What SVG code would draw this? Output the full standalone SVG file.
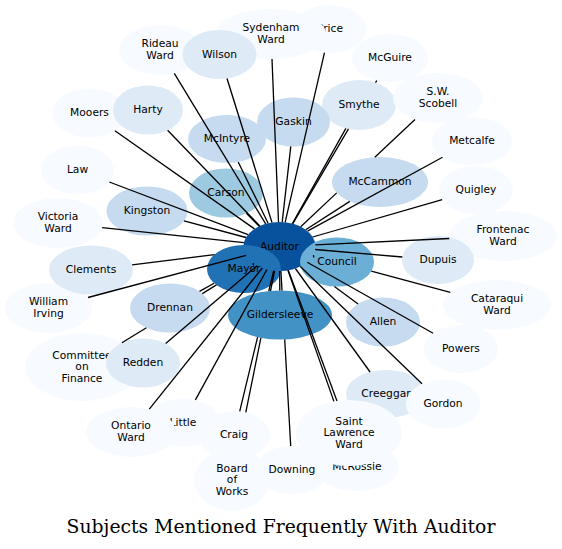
<svg xmlns="http://www.w3.org/2000/svg" width="562" height="549" viewBox="0 0 562 549">
<style>
.n text{font-family:"DejaVu Sans","Liberation Sans",sans-serif;font-size:10.7px;fill:#000;text-anchor:middle}
.c0{fill:#f7fbff}.c1{fill:#deebf7}.c2{fill:#c6dbef}.c3{fill:#9ecae1}.c4{fill:#6baed6}.c5{fill:#4292c6}.c6{fill:#2171b5}.c7{fill:#08519c}
#edges path{fill:none;stroke:#000;stroke-width:1.3}
.title{font-family:"DejaVu Serif","Liberation Serif",serif;font-size:18.8px;fill:#000;text-anchor:middle}
</style>
<rect width="562" height="549" fill="#fff"/>
<g id="nodes">
<g id="price" class="n"><ellipse class="c0" cx="330" cy="29" rx="36" ry="24"/><text x="330" y="32.3">Price</text></g>
<g id="sydenham" class="n"><ellipse class="c0" cx="271" cy="34" rx="55" ry="25"/><text x="271" y="31.4">Sydenham</text><text x="271" y="43">Ward</text></g>
<g id="rideau" class="n"><ellipse class="c0" cx="160" cy="50" rx="41" ry="25"/><text x="160" y="47.4">Rideau</text><text x="160" y="59">Ward</text></g>
<g id="wilson" class="n"><ellipse class="c1" cx="219.5" cy="54.5" rx="37" ry="24.5"/><text x="219.5" y="57.8">Wilson</text></g>
<g id="mcguire" class="n"><ellipse class="c0" cx="390" cy="58" rx="38" ry="24"/><text x="390" y="61.3">McGuire</text></g>
<g id="smythe" class="n"><ellipse class="c1" cx="359" cy="105" rx="37" ry="25"/><text x="359" y="108.3">Smythe</text></g>
<g id="scobell" class="n"><ellipse class="c0" cx="438" cy="98" rx="45" ry="25"/><text x="438" y="95.4">S.W.</text><text x="438" y="107">Scobell</text></g>
<g id="metcalfe" class="n"><ellipse class="c0" cx="472" cy="141" rx="40" ry="24"/><text x="472" y="144.3">Metcalfe</text></g>
<g id="quigley" class="n"><ellipse class="c0" cx="476" cy="190" rx="37" ry="24"/><text x="476" y="193.3">Quigley</text></g>
<g id="frontenac" class="n"><ellipse class="c0" cx="503" cy="236" rx="54" ry="25"/><text x="503" y="233.4">Frontenac</text><text x="503" y="245">Ward</text></g>
<g id="mooers" class="n"><ellipse class="c0" cx="89.5" cy="113" rx="37" ry="24.5"/><text x="89.5" y="116.3">Mooers</text></g>
<g id="harty" class="n"><ellipse class="c1" cx="148" cy="110" rx="35" ry="24.5"/><text x="148" y="113.3">Harty</text></g>
<g id="law" class="n"><ellipse class="c0" cx="77.5" cy="170" rx="36.5" ry="24.5"/><text x="77.5" y="173.3">Law</text></g>
<g id="mcintyre" class="n"><ellipse class="c2" cx="227" cy="139" rx="39" ry="24"/><text x="227" y="142.3">McIntyre</text></g>
<g id="gaskin" class="n"><ellipse class="c2" cx="293.5" cy="122" rx="36.5" ry="24.5"/><text x="293.5" y="125.3">Gaskin</text></g>
<g id="carson" class="n"><ellipse class="c3" cx="226" cy="193" rx="37" ry="24.5"/><text x="226" y="196.3">Carson</text></g>
<g id="mccammon" class="n"><ellipse class="c2" cx="380" cy="182" rx="48" ry="25"/><text x="380" y="185.3">McCammon</text></g>
<g id="victoria" class="n"><ellipse class="c0" cx="58" cy="223" rx="45" ry="25"/><text x="58" y="220.4">Victoria</text><text x="58" y="232">Ward</text></g>
<g id="kingston" class="n"><ellipse class="c2" cx="147" cy="211" rx="40.5" ry="24.5"/><text x="147" y="214.3">Kingston</text></g>
<g id="auditor" class="n"><ellipse class="c7" cx="279.5" cy="246.5" rx="36" ry="24.5"/><text x="279.5" y="249.8">Auditor</text></g>
<g id="mayor" class="n"><ellipse class="c6" cx="244" cy="269" rx="37" ry="24"/><text x="244" y="272.3">Mayor</text></g>
<g id="council" class="n"><ellipse class="c4" cx="337" cy="262" rx="37" ry="24.5"/><text x="337" y="265.3">Council</text></g>
<g id="gildersleeve" class="n"><ellipse class="c5" cx="280" cy="315" rx="52" ry="24.5"/><text x="280" y="318.3">Gildersleeve</text></g>
<g id="william-irving" class="n"><ellipse class="c0" cx="48.5" cy="308" rx="43.5" ry="25"/><text x="48.5" y="305.4">William</text><text x="48.5" y="317">Irving</text></g>
<g id="clements" class="n"><ellipse class="c1" cx="91" cy="270" rx="42" ry="24.5"/><text x="91" y="273.3">Clements</text></g>
<g id="drennan" class="n"><ellipse class="c2" cx="170" cy="308" rx="40" ry="24.5"/><text x="170" y="311.3">Drennan</text></g>
<g id="committee" class="n"><ellipse class="c0" cx="82" cy="367" rx="57" ry="34"/><text x="82" y="358.5">Committee</text><text x="82" y="370.2">on</text><text x="82" y="381.9">Finance</text></g>
<g id="redden" class="n"><ellipse class="c1" cx="143" cy="363" rx="37" ry="24.5"/><text x="143" y="366.3">Redden</text></g>
<g id="little" class="n"><ellipse class="c0" cx="183" cy="422.5" rx="37" ry="24"/><text x="183" y="425.8">Little</text></g>
<g id="ontario" class="n"><ellipse class="c0" cx="131" cy="432" rx="45" ry="25"/><text x="131" y="429.4">Ontario</text><text x="131" y="441">Ward</text></g>
<g id="craig" class="n"><ellipse class="c0" cx="234" cy="435" rx="36" ry="24"/><text x="234" y="438.3">Craig</text></g>
<g id="board" class="n"><ellipse class="c0" cx="232" cy="480" rx="38" ry="31"/><text x="232" y="471.5">Board</text><text x="232" y="483.2">of</text><text x="232" y="494.9">Works</text></g>
<g id="downing" class="n"><ellipse class="c0" cx="292" cy="470" rx="37" ry="24"/><text x="292" y="473.3">Downing</text></g>
<g id="mcrossie" class="n"><ellipse class="c0" cx="357" cy="467" rx="42" ry="24"/><text x="357" y="470.3">McRossie</text></g>
<g id="creeggar" class="n"><ellipse class="c1" cx="386" cy="394" rx="40" ry="24"/><text x="386" y="397.3">Creeggar</text></g>
<g id="saint-lawrence" class="n"><ellipse class="c0" cx="349" cy="433" rx="53" ry="33"/><text x="349" y="424.7">Saint</text><text x="349" y="436.4">Lawrence</text><text x="349" y="448.1">Ward</text></g>
<g id="gordon" class="n"><ellipse class="c0" cx="443" cy="404" rx="37" ry="24.5"/><text x="443" y="407.3">Gordon</text></g>
<g id="allen" class="n"><ellipse class="c2" cx="383" cy="322" rx="37" ry="24.5"/><text x="383" y="325.3">Allen</text></g>
<g id="dupuis" class="n"><ellipse class="c1" cx="438" cy="260" rx="36" ry="24"/><text x="438" y="263.3">Dupuis</text></g>
<g id="cataraqui" class="n"><ellipse class="c0" cx="497" cy="305" rx="54" ry="25"/><text x="497" y="302.4">Cataraqui</text><text x="497" y="314">Ward</text></g>
<g id="powers" class="n"><ellipse class="c0" cx="461" cy="349" rx="37" ry="24"/><text x="461" y="352.3">Powers</text></g>
</g>
<g id="edges">
<path d="M265.7,223.9L174.3,73.4"/>
<path d="M272,222.5L227,78.5"/>
<path d="M278.5,222L272,59"/>
<path d="M285.1,222.3L324.5,52.7"/>
<path d="M292.8,223.7L348.5,128.9M375.5,82.7L376.8,80.5"/>
<path d="M292.4,223.6L345.9,128.4"/>
<path d="M300.7,226.7L336.7,192.9M374.8,157.3L415,119.5"/>
<path d="M305.7,229.7L349.8,201.4"/>
<path d="M307.5,231.1L442.5,157.2"/>
<path d="M312.7,237L442.2,199.7"/>
<path d="M315.4,244.8L449.3,238.5"/>
<path d="M315.2,249.5L402.3,257"/>
<path d="M313.4,255.2L313.8,257.5"/>
<path d="M371.3,271.2L450.3,292.4"/>
<path d="M307.2,262.2L433.1,333.2"/>
<path d="M334.4,286.5L358.1,303.9"/>
<path d="M300.3,266.5L422,383.8"/>
<path d="M295.4,268.5L370.1,372"/>
<path d="M288.3,270.2L337,400.9"/>
<path d="M287.9,270.3L333.9,401.4"/>
<path d="M280.9,271L282,290.6M284.7,339.4L290.7,446"/>
<path d="M279.7,271L279.8,290.5"/>
<path d="M274.6,270.8L270.5,291M260.9,337.8L245.8,412.3"/>
<path d="M273.7,270.7L268.8,291M257.6,337.2L239.7,411.3"/>
<path d="M266.9,269.5L195.4,399.9"/>
<path d="M262.3,268L149.3,409.2"/>
<path d="M257.1,265.7L165.7,343.6"/>
<path d="M216.5,284.9L202.3,293.6M146.4,327.7L121.9,342.7"/>
<path d="M214.1,283.2L199.5,291.4"/>
<path d="M253.2,263.2L253.5,265.3"/>
<path d="M246,255.4L88,297.5"/>
<path d="M214.5,254.6L132.1,264.9"/>
<path d="M243.9,242.7L102.2,227.7"/>
<path d="M246,237.5L184,220.9"/>
<path d="M248,234.6L109.3,182"/>
<path d="M259.2,226.2L246.4,213.4"/>
<path d="M254.5,228.9L114.9,130.8"/>
<path d="M259.8,226L167.6,130.3"/>
<path d="M268.1,223.2L238.2,162"/>
<path d="M282.2,222.1L290.8,146.4"/>
</g>
<text class="title" x="281" y="533">Subjects Mentioned Frequently With Auditor</text>
</svg>
